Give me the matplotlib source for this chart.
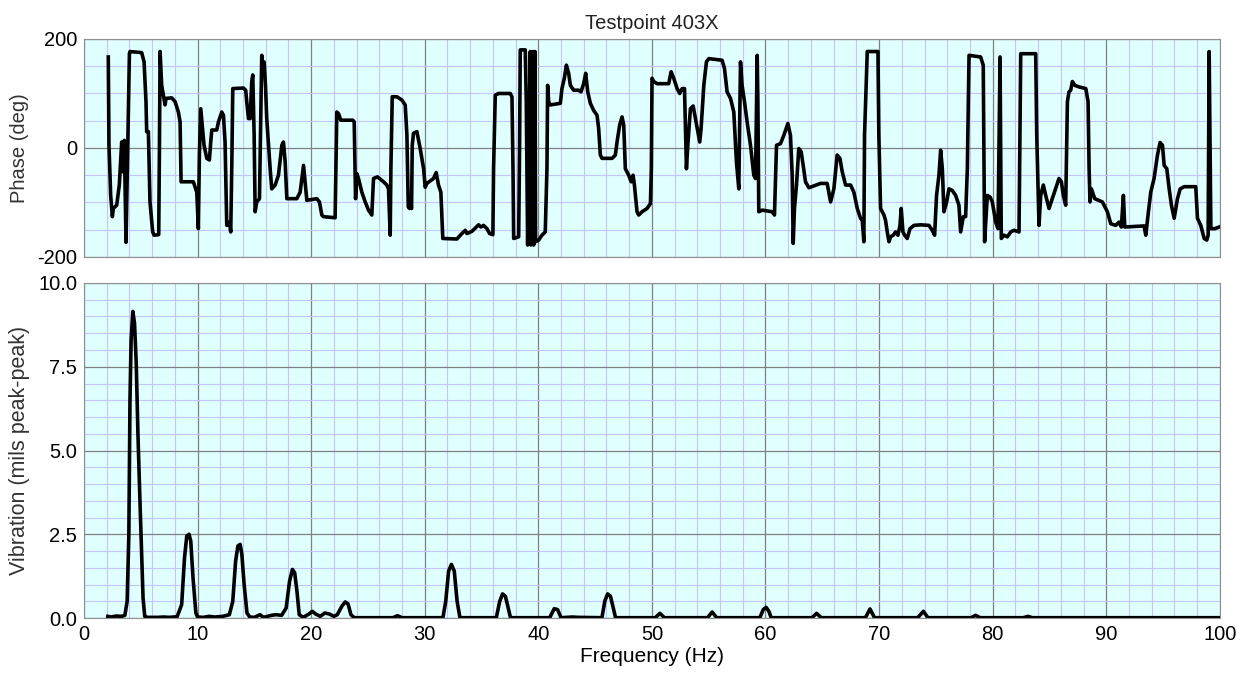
import matplotlib
matplotlib.use("Agg")
import matplotlib.pyplot as plt
from matplotlib.ticker import MultipleLocator, FormatStrFormatter

plt.rcParams['font.family'] = ['Liberation Sans', 'DejaVu Sans']
plt.rcParams['axes.unicode_minus'] = False

# phase trace (Hz, deg)
phase_f = [2.14, 2.20, 2.35, 2.50, 2.58, 2.88, 3.11, 3.32, 3.46, 3.55, 3.70, 3.85, 4.00, 4.05, 5.08, 5.29,
           5.46, 5.52, 5.67, 5.81, 6.05, 6.17, 6.58, 6.64, 6.70, 6.84, 6.99, 7.14, 7.22, 7.72, 8.02, 8.31,
           8.46, 8.55, 9.63, 9.93, 10.07, 10.16, 10.28, 10.57, 10.81, 11.04, 11.16, 11.25, 11.69, 11.84,
           12.13, 12.28, 12.42, 12.57, 12.80, 12.92, 13.01, 13.10, 14.04, 14.24, 14.33, 14.48, 14.63, 14.77,
           14.86, 14.98, 15.07, 15.21, 15.45, 15.65, 15.74, 15.86, 15.98, 16.09, 16.39, 16.53, 16.83, 17.12,
           17.42, 17.56, 17.71, 17.86, 18.74, 19.03, 19.33, 19.47, 19.62, 20.50, 20.73, 20.94, 21.09, 22.11,
           22.26, 22.41, 22.61, 23.67, 23.79, 23.91, 24.02, 24.17, 24.46, 24.76, 25.05, 25.34, 25.49, 25.84,
           26.37, 26.66, 26.81, 26.96, 27.02, 27.14, 27.55, 27.99, 28.28, 28.43, 28.55, 28.66, 28.72, 28.84,
           28.90, 29.01, 29.31, 29.60, 29.90, 30.04, 30.19, 30.77, 31.01, 31.21, 31.42, 31.59, 32.83, 33.27,
           33.57, 33.72, 34.15, 34.45, 34.74, 34.95, 35.18, 35.48, 35.71, 36.00, 36.06, 36.21, 36.50, 37.53,
           37.68, 37.77, 37.83, 38.27, 38.35, 38.41, 38.85, 38.94, 39.06, 39.29, 39.35, 39.53, 39.59, 39.70,
           39.76, 40.03, 40.32, 40.61, 40.76, 40.82, 40.91, 41.05, 41.94, 42.08, 42.29, 42.47, 42.67, 42.82,
           43.11, 43.55, 43.76, 43.99, 44.17, 44.35, 44.58, 44.87, 45.17, 45.31, 45.46, 45.61, 46.49, 46.78,
           46.93, 47.16, 47.37, 47.52, 47.66, 47.96, 48.17, 48.34, 48.46, 48.69, 48.84, 49.13, 49.57, 49.87,
           49.95, 50.01, 50.16, 50.46, 51.48, 51.69, 51.92, 52.22, 52.45, 52.66, 52.87, 52.95, 53.04, 53.16,
           53.39, 53.63, 53.83, 54.21, 54.33, 54.57, 54.80, 55.01, 56.18, 56.39, 56.62, 56.92, 57.21, 57.44,
           57.65, 57.80, 57.94, 58.15, 58.38, 58.68, 58.97, 59.12, 59.27, 59.33, 59.41, 59.71, 60.59, 60.79,
           60.97, 61.32, 61.61, 61.97, 62.20, 62.35, 62.44, 62.55, 62.73, 62.93, 63.14, 63.32, 63.52, 63.82,
           64.84, 65.43, 65.73, 66.02, 66.31, 66.55, 66.76, 67.05, 67.49, 67.78, 68.08, 68.37, 68.52, 68.66,
           68.72, 68.96, 69.90, 69.98, 70.13, 70.43, 70.57, 70.72, 70.87, 71.01, 71.25, 71.45, 71.66, 71.84,
           71.95, 72.10, 72.25, 72.48, 72.72, 73.07, 73.66, 74.39, 74.68, 74.89, 75.06, 75.27, 75.42, 75.57,
           75.71, 75.95, 76.15, 76.45, 76.74, 77.03, 77.18, 77.42, 77.62, 77.77, 77.92, 78.94, 79.17, 79.29,
           79.53, 79.77, 79.97, 80.27, 80.47, 80.65, 80.76, 81.00, 81.29, 81.59, 81.88, 82.32, 82.47, 83.79,
           83.88, 84.08, 84.23, 84.46, 84.67, 84.96, 85.25, 85.55, 85.84, 86.05, 86.22, 86.43, 86.58, 86.72,
           86.87, 87.02, 87.23, 87.61, 88.20, 88.40, 88.49, 88.57, 88.69, 88.99, 89.66, 90.10, 90.40, 90.83,
           91.13, 91.33, 91.51, 91.63, 93.33, 93.48, 93.68, 93.92, 94.21, 94.51, 94.74, 94.95, 95.10, 95.33,
           95.54, 95.74, 95.98, 96.27, 96.51, 96.86, 97.88, 98.03, 98.32, 98.62, 98.85, 98.97, 99.06, 99.21,
           99.56, 99.94]
phase_deg = [167, 5, -87, -126, -111, -105, -68, 11, -44, 14, -173, -1, 173, 177, 175, 158,
             85, 30, 30, -99, -154, -160, -159, -7, 177, 115, 97, 79, 91, 92, 85, 66,
             48, -62, -62, -81, -148, -13, 72, 5, -19, -22, 11, 33, 33, 48,
             66, 60, 11, -142, -136, -154, -38, 109, 110, 106, 85, 54, 54, 122,
             134, 24, -117, -99, -93, 170, 134, 158, 115, 54, -38, -75, -68, -50,
             5, 11, -25, -93, -93, -81, -32, -62, -96, -93, -99, -123, -126, -128,
             66, 63, 51, 51, 48, -93, -47, -56, -81, -99, -114, -123, -56, -53,
             -62, -68, -75, -160, -38, 94, 94, 88, 79, 24, -108, -111, -99, -111,
             5, 27, 30, -1, -38, -72, -65, -56, -45, -68, -81, -166, -167, -157,
             -151, -157, -153, -147, -141, -145, -142, -148, -157, -159, -38, 97, 100, 100,
             94, -38, -166, -163, 5, 180, 180, 85, -178, 177, -178, 177, -178, 177,
             -172, -169, -160, -154, -38, 115, 85, 79, 82, 109, 128, 152, 137, 115,
             106, 106, 103, 118, 137, 103, 82, 69, 60, 36, -13, -19, -19, -13,
             11, 42, 57, 42, -38, -50, -62, -50, -68, -117, -123, -117, -111, -102,
             -38, 128, 122, 118, 118, 140, 128, 109, 100, 109, 109, 36, -38, 5,
             72, 77, 54, 11, 36, 115, 158, 164, 161, 146, 103, 91, 66, -25,
             -75, 158, 115, 85, 48, 5, -50, -56, 170, 85, -117, -114, -117, -123,
             5, 8, 23, 45, 23, -50, -175, -111, -68, -1, -7, -32, -62, -73,
             -65, -65, -99, -75, -13, -19, -44, -68, -68, -81, -111, -129, -133, -172,
             24, 177, 177, 24, -111, -123, -133, -154, -172, -163, -160, -154, -160, -142,
             -111, -154, -160, -166, -148, -142, -141, -142, -151, -160, -87, -50, -4, -38,
             -117, -99, -75, -78, -87, -105, -154, -126, -126, -38, 170, 167, 152, -172,
             -87, -90, -99, -136, -148, 167, -166, -160, -163, -154, -151, -154, 173, 173,
             24, -142, -87, -68, -87, -111, -93, -75, -56, -62, -87, -105, 85, 103,
             106, 122, 115, 112, 109, 85, -38, -99, -75, -93, -99, -117, -139, -142,
             -136, -145, -87, -145, -143, -160, -123, -81, -56, -13, 10, 5, -32, -38,
             -75, -105, -129, -93, -75, -71, -71, -129, -142, -166, -169, -160, 177, -148,
             -148, -145]

# vibration spectrum (Hz, mils pk-pk)
vib_f = [2.1, 2.4, 2.8, 3.3, 3.6, 3.8, 3.95, 4.05, 4.15, 4.3, 4.45, 4.6, 4.75, 4.9, 5.05, 5.2, 5.35,
         5.6, 6.5, 7.0, 7.5, 8.2, 8.6, 8.85, 9.05, 9.25, 9.4, 9.6, 9.85, 10.0, 10.5, 11.0, 11.5,
         12.2, 12.8, 13.1, 13.35, 13.55, 13.75, 13.9, 14.1, 14.35, 14.6, 15.0, 15.5, 15.8, 16.5,
         16.9, 17.4, 17.8, 18.1, 18.35, 18.55, 18.75, 18.95, 19.3, 19.8, 20.1, 20.4, 20.8, 21.2,
         21.6, 22.0, 22.3, 22.7, 23.0, 23.25, 23.5, 23.8, 27.2, 27.6, 28.0, 31.6, 31.85, 32.1,
         32.35, 32.6, 32.85, 33.1, 36.3, 36.6, 36.85, 37.1, 37.35, 37.55, 41.0, 41.4, 41.7, 42.0,
         43.0, 43.5, 45.6, 45.85, 46.1, 46.35, 46.6, 46.8, 50.3, 50.7, 51.1, 54.9, 55.3, 55.7,
         59.5, 59.8, 60.05, 60.3, 60.5, 64.1, 64.5, 64.9, 68.8, 69.2, 69.6, 73.4, 73.9, 74.3,
         78.1, 78.5, 78.9, 82.7, 83.1, 83.5, 99.9]
vib_amp = [0.05, 0.03, 0.06, 0.05, 0.08, 0.5, 2.5, 6.5, 8.3, 9.15, 8.8, 7.6, 5.5, 3.8, 2.2, 0.6, 0.05,
           0.02, 0.02, 0.03, 0.02, 0.04, 0.4, 1.8, 2.45, 2.5, 2.3, 1.2, 0.15, 0.03, 0.02, 0.05, 0.03,
           0.05, 0.1, 0.5, 1.7, 2.15, 2.2, 1.9, 1.0, 0.15, 0.03, 0.02, 0.1, 0.02, 0.08,
           0.1, 0.08, 0.3, 1.1, 1.45, 1.35, 0.8, 0.1, 0.02, 0.12, 0.2, 0.12, 0.05, 0.15,
           0.12, 0.05, 0.1, 0.35, 0.48, 0.42, 0.1, 0.01, 0.01, 0.07, 0.01, 0.01, 0.5, 1.4,
           1.6, 1.4, 0.5, 0.01, 0.01, 0.5, 0.72, 0.65, 0.3, 0.01, 0.01, 0.28, 0.25, 0.01,
           0.03, 0.02, 0.01, 0.5, 0.72, 0.65, 0.3, 0.01, 0.01, 0.14, 0.01, 0.01, 0.18, 0.01,
           0.01, 0.25, 0.32, 0.2, 0.01, 0.01, 0.14, 0.01, 0.01, 0.27, 0.01, 0.01, 0.2, 0.01,
           0.01, 0.08, 0.01, 0.01, 0.05, 0.01, 0.01]

bg = '#e0ffff'
minor_c = '#c4c4ff'
major_c = '#808080'

fig = plt.figure(figsize=(12.46, 6.77), dpi=100)
ax1 = fig.add_axes([0.0674, 0.6204, 0.9116, 0.322])
ax2 = fig.add_axes([0.0674, 0.0871, 0.9116, 0.4949])

for ax in (ax1, ax2):
    ax.set_facecolor(bg)
    ax.set_xlim(0, 100)
    ax.xaxis.set_major_locator(MultipleLocator(10))
    ax.xaxis.set_minor_locator(MultipleLocator(2))
    ax.grid(which='minor', color=minor_c, lw=0.8)
    ax.grid(which='major', color=major_c, lw=0.9)
    ax.set_axisbelow(True)
    ax.tick_params(which='both', length=0, labelsize=14.5, pad=5)
    for s in ax.spines.values():
        s.set_color('#909090')

ax1.plot(phase_f, phase_deg, color='black', lw=2.6)
ax1.set_ylim(-200, 200)
ax1.yaxis.set_major_locator(MultipleLocator(200))
ax1.yaxis.set_minor_locator(MultipleLocator(50))
ax1.tick_params(axis='x', labelbottom=False)
ax1.set_ylabel("Phase (deg)", fontsize=14.5, color='#333333', labelpad=6)
ax1.set_title("Testpoint 403X", fontsize=14.5, color='#222222', pad=7)

ax2.plot(vib_f, vib_amp, color='black', lw=2.6)
ax2.set_ylim(0, 10)
ax2.yaxis.set_major_locator(MultipleLocator(2.5))
ax2.yaxis.set_minor_locator(MultipleLocator(0.5))
ax2.yaxis.set_major_formatter(FormatStrFormatter('%.1f'))
ax2.set_ylabel("Vibration (mils peak-peak)", fontsize=15.5, color='#333333', labelpad=6)
ax2.set_xlabel("Frequency (Hz)", fontsize=15, labelpad=2)

fig.savefig("out.png", dpi=100)
